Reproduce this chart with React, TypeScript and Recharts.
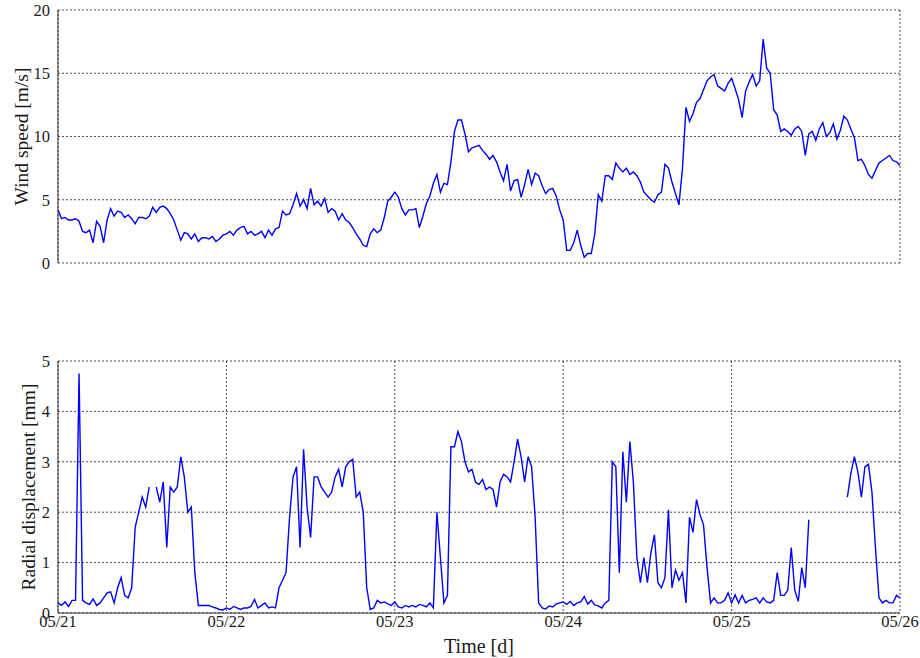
import { LineChart, Line, XAxis, YAxis, CartesianGrid } from "recharts";

// sample every half hour from 05/21 00:00 to 05/26 00:00 (time in days)
const STEP = 1 / 48;
const dayTicks = [0, 1, 2, 3, 4, 5];
const dayLabels = ["05/21", "05/22", "05/23", "05/24", "05/25", "05/26"];
const windTicks = [0, 5, 10, 15, 20];
const dispTicks = [0, 1, 2, 3, 4, 5];

// wind speed [m/s]
const wind = [
  4.2, 3.5, 3.6, 3.4, 3.4, 3.5, 3.3, 2.5, 2.4, 2.6,
  1.6, 3.3, 2.9, 1.6, 3.4, 4.3, 3.7, 4.1, 4.0, 3.6,
  3.8, 3.5, 3.1, 3.6, 3.6, 3.5, 3.7, 4.4, 4.0, 4.4,
  4.5, 4.3, 3.9, 3.4, 2.6, 1.8, 2.4, 2.3, 1.9, 2.3,
  1.7, 2.0, 2.0, 1.9, 2.1, 1.7, 1.9, 2.2, 2.3, 2.5,
  2.2, 2.6, 2.8, 2.9, 2.3, 2.5, 2.2, 2.3, 2.5, 2.0,
  2.6, 2.2, 2.7, 2.8, 4.1, 3.8, 3.9, 4.6, 5.5, 4.5,
  5.0, 4.3, 5.9, 4.6, 4.9, 4.5, 5.1, 4.0, 4.3, 4.1,
  3.4, 3.9, 3.4, 3.2, 2.8, 2.3, 1.9, 1.4, 1.3, 2.3,
  2.7, 2.4, 2.6, 3.6, 4.9, 5.2, 5.6, 5.2, 4.3, 3.8,
  4.2, 4.2, 4.3, 2.8, 3.7, 4.7, 5.3, 6.3, 7.0, 5.6,
  6.3, 6.2, 8.0, 10.4, 11.3, 11.3, 10.2, 8.8, 9.1, 9.2,
  9.3, 8.9, 8.6, 8.2, 8.5, 8.0, 7.2, 6.5, 7.8, 5.7,
  6.5, 6.6, 5.2, 6.2, 7.4, 6.2, 7.1, 6.9, 6.1, 5.5,
  5.8, 5.9, 5.3, 4.2, 3.4, 1.0, 1.0, 1.6, 2.6, 1.4,
  0.45, 0.75, 0.75, 2.3, 5.4, 4.9, 6.9, 6.9, 6.6, 7.9,
  7.5, 7.2, 7.5, 7.0, 7.2, 6.9, 6.4, 5.6, 5.3, 5.0,
  4.8, 5.4, 5.6, 7.8, 7.5, 6.4, 5.5, 4.6, 7.5, 12.3,
  11.2, 11.8, 12.7, 13.0, 13.7, 14.4, 14.7, 14.9, 14.0, 13.8,
  13.6, 14.2, 14.6, 13.8, 12.9, 11.5, 13.6, 14.3, 14.9, 14.0,
  14.4, 17.7, 15.4, 15.0, 12.1, 11.7, 10.4, 10.6, 10.4, 10.1,
  10.6, 10.8, 10.4, 8.5, 10.2, 10.4, 9.7, 10.6, 11.1, 10.0,
  10.3, 11.0, 9.8, 10.5, 11.6, 11.3, 10.6, 9.9, 8.1, 8.2,
  7.7, 7.0, 6.7, 7.3, 7.9, 8.1, 8.3, 8.5, 8.1, 8.0, 7.7,
];

// radial displacement [mm], null = no data
const disp = [
  0.2, 0.15, 0.22, 0.13, 0.25, 0.25, 4.75, 0.25, 0.2, 0.17,
  0.28, 0.15, 0.2, 0.3, 0.4, 0.42, 0.2, 0.5, 0.7, 0.35,
  0.3, 0.5, 1.7, 2.0, 2.3, 2.1, 2.5, null, 2.5, 2.2,
  2.6, 1.3, 2.5, 2.4, 2.5, 3.1, 2.7, 2.0, 2.1, 0.8,
  0.15, 0.15, 0.15, 0.15, 0.12, 0.1, 0.07, 0.06, 0.1, 0.07,
  0.13, 0.1, 0.07, 0.1, 0.1, 0.13, 0.27, 0.1, 0.15, 0.2,
  0.1, 0.12, 0.1, 0.5, 0.65, 0.8, 1.9, 2.7, 2.9, 1.3,
  3.25, 2.1, 1.5, 2.7, 2.7, 2.5, 2.4, 2.3, 2.4, 2.7,
  2.85, 2.5, 2.9, 3.0, 3.05, 2.3, 2.4, 2.0, 0.5, 0.07,
  0.1, 0.25, 0.2, 0.22, 0.18, 0.15, 0.22, 0.12, 0.1, 0.15,
  0.12, 0.15, 0.12, 0.17, 0.15, 0.12, 0.2, 0.1, 2.0, 1.1,
  0.2, 0.35, 3.3, 3.3, 3.6, 3.4, 3.0, 2.8, 2.85, 2.6,
  2.55, 2.65, 2.45, 2.5, 2.45, 2.1, 2.6, 2.75, 2.7, 2.6,
  3.0, 3.45, 3.1, 2.6, 3.1, 2.9, 1.9, 0.2, 0.1, 0.08,
  0.14, 0.12, 0.18, 0.2, 0.22, 0.17, 0.23, 0.15, 0.2, 0.22,
  0.33, 0.18, 0.25, 0.16, 0.14, 0.1, 0.2, 0.25, 3.0, 2.9,
  0.8, 3.2, 2.2, 3.4, 2.6, 1.1, 0.6, 1.1, 0.6, 1.2,
  1.55, 0.6, 0.5, 0.7, 2.05, 0.5, 0.85, 0.65, 0.8, 0.2,
  1.9, 1.6, 2.25, 1.95, 1.75, 0.9, 0.2, 0.3, 0.2, 0.2,
  0.25, 0.4, 0.2, 0.36, 0.2, 0.35, 0.2, 0.25, 0.27, 0.3,
  0.2, 0.3, 0.22, 0.2, 0.25, 0.8, 0.35, 0.35, 0.45, 1.3,
  0.45, 0.23, 0.9, 0.5, 1.85, null, null, null, null, null,
  null, null, null, null, null, 2.3, 2.77, 3.1, 2.8, 2.3,
  2.9, 2.95, 2.4, 1.3, 0.3, 0.2, 0.25, 0.2, 0.2, 0.35, 0.3,
];

const data = wind.map((w, i) => ({ t: i * STEP, wind: w, disp: disp[i] }));

const FONT = "'Liberation Serif', 'Times New Roman', serif";
const tickStyle = { fontSize: 16.5, fill: "#1a1a1a", fontFamily: FONT };
const labelStyle = { fontSize: 19.5, fontFamily: FONT, fill: "#1a1a1a" };
const frame = { stroke: "#333", strokeWidth: 1 };
const fmtDay = (v: number) => dayLabels[Math.round(v)] ?? "";

export default function App() {
  return (
    <div style={{ position: "absolute", left: 0, top: 0, width: 920, height: 658, background: "#fff" }}>
      <div style={{ position: "absolute", left: 0, top: 0 }}>
        <LineChart width={920} height={280} data={data} margin={{ top: 10, right: 20, bottom: 17, left: 0 }}>
          <CartesianGrid stroke="#222" strokeDasharray="2 2" strokeWidth={0.8} />
          <XAxis dataKey="t" type="number" domain={[0, 5]} ticks={dayTicks} height={0} tick={false} tickLine={false} axisLine={frame} allowDataOverflow />
          <XAxis xAxisId="top" type="number" orientation="top" domain={[0, 5]} ticks={dayTicks} height={0} tick={false} tickLine={false} axisLine={frame} />
          <YAxis domain={[0, 20]} ticks={windTicks} width={58} tick={tickStyle} tickLine={false} tickSize={6} tickMargin={2} axisLine={frame} allowDataOverflow
            label={{ value: "Wind speed [m/s]", angle: -90, position: "center", dx: -8, style: labelStyle }} />
          <YAxis yAxisId="right" orientation="right" domain={[0, 20]} ticks={windTicks} width={0} tick={false} tickLine={false} axisLine={frame} />
          <Line type="linear" dataKey="wind" stroke="#0000ff" strokeWidth={1.4} dot={false} isAnimationActive={false} />
        </LineChart>
      </div>
      <div style={{ position: "absolute", left: 0, top: 340 }}>
        <LineChart width={920} height={318} data={data} margin={{ top: 21, right: 20, bottom: 0, left: 0 }}>
          <CartesianGrid stroke="#222" strokeDasharray="2 2" strokeWidth={0.8} />
          <XAxis dataKey="t" type="number" domain={[0, 5]} ticks={dayTicks} height={45} tickFormatter={fmtDay} tick={tickStyle} tickLine={false} tickSize={2} tickMargin={0} axisLine={frame} allowDataOverflow
            label={{ value: "Time [d]", position: "insideBottom", offset: 5, style: { ...labelStyle, fontSize: 20 } }} />
          <XAxis xAxisId="top" type="number" orientation="top" domain={[0, 5]} ticks={dayTicks} height={0} tick={false} tickLine={false} axisLine={frame} />
          <YAxis domain={[0, 5]} ticks={dispTicks} width={58} tick={tickStyle} tickLine={false} tickSize={6} tickMargin={2} axisLine={frame} allowDataOverflow
            label={{ value: "Radial displacement [mm]", angle: -90, position: "center", dx: -1, style: labelStyle }} />
          <YAxis yAxisId="right" orientation="right" domain={[0, 5]} ticks={dispTicks} width={0} tick={false} tickLine={false} axisLine={frame} />
          <Line type="linear" dataKey="disp" stroke="#0000ff" strokeWidth={1.4} dot={false} isAnimationActive={false} />
        </LineChart>
      </div>
    </div>
  );
}
